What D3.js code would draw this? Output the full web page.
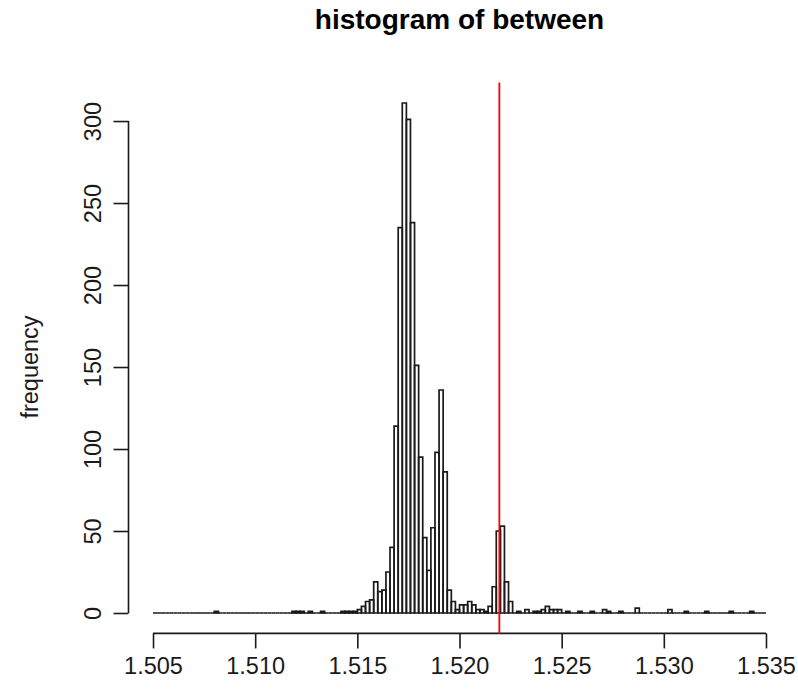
<!DOCTYPE html>
<html>
<head>
<meta charset="utf-8">
<script src="https://cdn.jsdelivr.net/npm/d3@7"></script>
<style>
  body { margin: 0; background: #fff; }
  svg { display: block; font-family: "Liberation Sans", Arial, sans-serif; }
  .bar { fill: none; stroke: #1a1a1a; stroke-width: 1.7; }
  .axis path, .axis line { stroke: #1a1a1a; stroke-width: 1.6; }
</style>
</head>
<body>
<div id="visualization"></div>
<script>
// histogram breaks: 150 bins of width 0.0002 from 1.505 to 1.535
var breakStart = 1.505,
    breakStep = 0.0002,
    binCount = 150;

// counts per bin, ten bins per row
var counts = [
  0, 0, 0, 0, 0, 0, 0, 0, 0, 0,
  0, 0, 0, 0, 0, 1, 0, 0, 0, 0,
  0, 0, 0, 0, 0, 0, 0, 0, 0, 0,
  0, 0, 0, 0, 1, 1, 1, 0, 1, 0,
  0, 1, 0, 0, 0, 0, 1, 1, 1, 1,
  2, 4, 7, 8, 19, 13, 14, 25, 40, 114,
  235, 311, 301, 238, 151, 95, 46, 26, 52, 98,
  136, 86, 14, 7, 2, 5, 5, 7, 5, 2,
  2, 1, 4, 16, 50, 53, 19, 7, 0, 1,
  0, 2, 0, 1, 1, 2, 4, 2, 2, 2,
  0, 1, 0, 0, 1, 0, 0, 1, 0, 0,
  2, 1, 0, 0, 1, 0, 0, 0, 3, 0,
  0, 0, 0, 0, 0, 0, 2, 0, 0, 0,
  1, 0, 0, 0, 0, 1, 0, 0, 0, 0,
  0, 1, 0, 0, 0, 0, 1, 0, 0, 0
];

var xTicks = [1.505, 1.510, 1.515, 1.520, 1.525, 1.530, 1.535];
var yTicks = [0, 50, 100, 150, 200, 250, 300];
var markValue = 1.52195;

var titleText = "histogram of between",
    yLabelText = "frequency";

function draw_histogram() {
  var width = 798,
      height = 692;

  // plot region in pixels (R style: 4% padding around data range)
  var left = 128.5,
      right = 790.5,
      top = 82.6,
      bottom = 633.4;

  var bins = d3.range(binCount).map(function(i) {
    return {x0: breakStart + i * breakStep,
            x1: breakStart + (i + 1) * breakStep,
            n: counts[i]};
  });

  var xMin = breakStart,
      xMax = breakStart + binCount * breakStep,
      yMax = d3.max(counts);
  var xPad = (xMax - xMin) * 0.04,
      yPad = yMax * 0.04;

  var x = d3.scaleLinear().domain([xMin - xPad, xMax + xPad]).range([left, right]),
      y = d3.scaleLinear().domain([-yPad, yMax + yPad]).range([bottom, top]);

  var svg = d3.select("#visualization")
              .append("svg")
              .attr("width", width)
              .attr("height", height);

  svg.append("rect")
     .attr("width", width)
     .attr("height", height)
     .attr("fill", "#fff");

  // bars drawn as paths so empty bins still leave their baseline
  svg.append("g")
     .selectAll("path")
     .data(bins)
     .enter()
     .append("path")
     .attr("class", "bar")
     .attr("d", function(d) {
       return "M" + x(d.x0) + "," + y(0) +
              "V" + y(d.n) + "H" + x(d.x1) + "V" + y(0) + "Z";
     });

  // x axis
  var xAxis = svg.append("g")
     .attr("class", "axis")
     .attr("transform", "translate(0," + bottom + ")")
     .call(d3.axisBottom(x).tickValues(xTicks).tickSizeOuter(0).tickSize(15)
             .tickFormat(d3.format(".3f")));
  xAxis.select(".domain").attr("d", "M" + x(xTicks[0]) + ",0H" + x(xTicks[xTicks.length - 1]));
  xAxis.selectAll("text")
       .attr("y", 0)
       .attr("dy", 0)
       .attr("transform", "translate(0,40.5)")
       .attr("fill", "#1a1a1a")
       .style("font-size", "23.5px")
       .style("font-family", "Liberation Sans, Arial, sans-serif");

  // y axis, labels turned like R's default las = 0
  var yAxis = svg.append("g")
     .attr("class", "axis")
     .attr("transform", "translate(" + left + ",0)")
     .call(d3.axisLeft(y).tickValues(yTicks).tickSizeOuter(0).tickSize(15));
  yAxis.select(".domain").attr("d", "M0," + y(yTicks[0]) + "V" + y(yTicks[yTicks.length - 1]));
  yAxis.selectAll("text")
       .attr("x", 0)
       .attr("dy", 0)
       .attr("text-anchor", "middle")
       .attr("transform", "translate(-28,0) rotate(-90)")
       .attr("fill", "#1a1a1a")
       .style("font-size", "23.5px")
       .style("font-family", "Liberation Sans, Arial, sans-serif");

  // reference line
  svg.append("line")
     .attr("x1", x(markValue))
     .attr("x2", x(markValue))
     .attr("y1", top)
     .attr("y2", bottom)
     .attr("stroke", "#ff0000")
     .attr("stroke-width", 1.8);

  svg.append("text")
     .attr("x", (left + right) / 2)
     .attr("y", 29)
     .attr("text-anchor", "middle")
     .style("font-size", "28px")
     .style("font-weight", "bold")
     .attr("fill", "#000")
     .text(titleText);

  svg.append("text")
     .attr("transform", "translate(38," + ((y(0) + y(300)) / 2) + ") rotate(-90)")
     .attr("text-anchor", "middle")
     .style("font-size", "23.5px")
     .attr("fill", "#1a1a1a")
     .text(yLabelText);
}

draw_histogram();
</script>
</body>
</html>
